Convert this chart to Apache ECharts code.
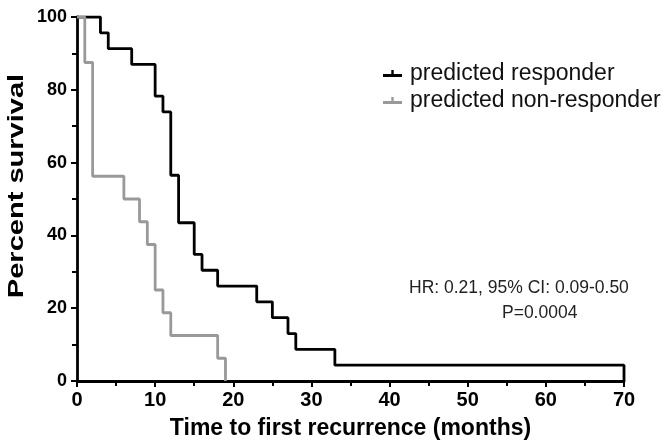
<!DOCTYPE html>
<html>
<head>
<meta charset="utf-8">
<script src="https://cdn.jsdelivr.net/npm/echarts@6/dist/echarts.min.js"></script>
<style>
  html, body { margin: 0; padding: 0; background: #fff; }
  #chart { width: 665px; height: 445px; }
</style>
</head>
<body>
<div id="chart"></div>
<script>
// Kaplan-Meier steps: [month, percent]
var responderTimes = [0, 3, 4, 7, 10, 11, 12, 13, 15, 16, 18, 23, 25, 27, 28, 33, 70, 70];
var responderSurvival = [100, 95.65, 91.3, 86.96, 78.26, 73.91, 56.52, 43.48, 34.78, 30.43, 26.09, 21.74, 17.39, 13.04, 8.7, 4.35, 4.35, 0];
var nonResponderTimes = [0, 1, 2, 6, 8, 9, 10, 11, 12, 18, 19];
var nonResponderSurvival = [100, 87.5, 56.25, 50, 43.75, 37.5, 25, 18.75, 12.5, 6.25, 0];
var xTicks = { min: 0, max: 70, interval: 10 };
var yTicks = { min: 0, max: 100, interval: 20 };

var font = "'Liberation Sans', Arial, sans-serif";
var pairs = function (xs, ys) {
  return xs.map(function (x, i) { return [x, ys[i]]; });
};
// legend mark: short line with a small censor tick
var icon = "path://M0,5 L19,5 L19,8 L0,8 Z M8.3,1 L10.7,1 L10.7,5 L8.3,5 Z";

var chart = echarts.init(document.getElementById("chart"));
var axisCommon = {
  axisLine: { lineStyle: { color: "#000", width: 2.8 } },
  axisTick: { inside: false, length: 6, lineStyle: { color: "#000", width: 2 } },
  minorTick: { show: true, splitNumber: 2, length: 5, lineStyle: { color: "#000", width: 2 } },
  splitLine: { show: false },
  axisLabel: { color: "#000", fontFamily: font, fontWeight: "bold", fontSize: 18 },
  nameTextStyle: { color: "#000", fontFamily: font, fontWeight: "bold", fontSize: 23 }
};

chart.setOption({
  animation: false,
  grid: { left: 77, right: 41, top: 17, bottom: 63 },
  legend: {
    orient: "vertical",
    left: 378,
    top: 57,
    itemWidth: 19,
    itemHeight: 7,
    itemGap: 4,
    textStyle: { color: "#111", fontFamily: font, fontSize: 23, padding: [0, 0, 0, 3] },
    data: [
      { name: "predicted responder", icon: icon },
      { name: "predicted non-responder", icon: icon }
    ]
  },
  xAxis: Object.assign({}, axisCommon, {
    type: "value",
    min: xTicks.min,
    max: xTicks.max,
    interval: xTicks.interval,
    name: "Time to first recurrence (months)",
    nameLocation: "middle",
    nameGap: 36,
    axisLabel: Object.assign({}, axisCommon.axisLabel, { fontSize: 20, margin: 9 })
  }),
  yAxis: Object.assign({}, axisCommon, {
    type: "value",
    min: yTicks.min,
    max: yTicks.max,
    interval: yTicks.interval,
    axisLabel: Object.assign({}, axisCommon.axisLabel, { margin: 10 })
  }),
  graphic: [
    {
      type: "text", x: 17, y: 186, rotation: Math.PI / 2, scaleX: 1.32,
      style: {
        text: "Percent survival", fill: "#000", font: "bold 22px " + font,
        textAlign: "center", textVerticalAlign: "middle"
      }
    },
    {
      type: "text", x: 409, y: 288,
      style: {
        text: "HR: 0.21, 95% CI: 0.09-0.50", fill: "#222", font: "17.5px " + font,
        textVerticalAlign: "middle"
      }
    },
    {
      type: "text", x: 502, y: 313,
      style: {
        text: "P=0.0004", fill: "#222", font: "17.5px " + font,
        textVerticalAlign: "middle"
      }
    }
  ],
  series: [
    {
      name: "predicted responder",
      type: "line",
      step: "end",
      showSymbol: false,
      color: "#000",
      lineStyle: { color: "#000", width: 2.8 },
      data: pairs(responderTimes, responderSurvival)
    },
    {
      name: "predicted non-responder",
      type: "line",
      step: "end",
      showSymbol: false,
      color: "#999",
      lineStyle: { color: "#999", width: 2.8 },
      data: pairs(nonResponderTimes, nonResponderSurvival)
    }
  ]
});
</script>
</body>
</html>
